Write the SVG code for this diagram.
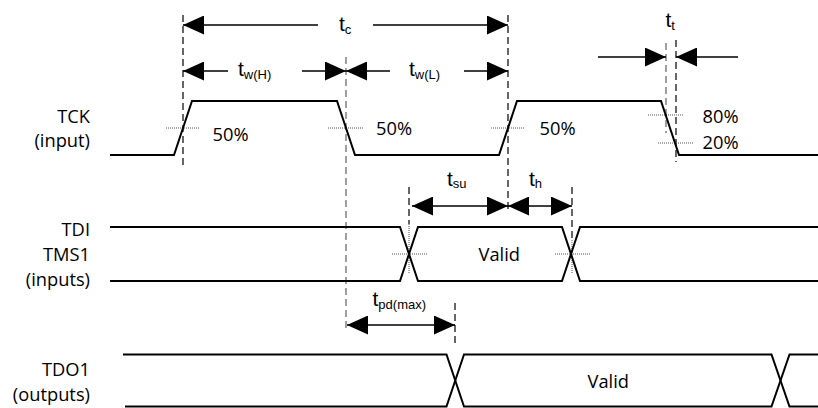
<svg xmlns="http://www.w3.org/2000/svg" width="818" height="408" viewBox="0 0 818 408">
<style>
.wave{fill:none;stroke:#000;stroke-width:2;stroke-linejoin:miter}
.dash{fill:none;stroke:#000;stroke-width:1.2;stroke-dasharray:7,4}
.gdash{fill:none;stroke:#777;stroke-width:1.4;stroke-dasharray:7,4}
.dot{fill:none;stroke:#555;stroke-width:1;stroke-dasharray:1,1}
.arr{fill:none;stroke:#000;stroke-width:1.6}
.lbl{font-family:"Open Sans","Liberation Sans",sans-serif;font-size:18.3px;fill:#000}
.end{text-anchor:end}
.tm{font-family:"Liberation Sans",Arial,sans-serif;font-size:21px;fill:#000}
.sub{font-size:13px}
</style>
<defs>
<marker id="ah" viewBox="0 0 21 19" refX="21" refY="9.5" markerWidth="21" markerHeight="19" markerUnits="userSpaceOnUse" orient="auto-start-reverse">
<path d="M0,0 L21,9.5 L0,19 Z" fill="#000"/>
</marker>
</defs>
<rect width="818" height="408" fill="#fff"/>

<g id="guides">
<line class="dash" x1="183" y1="15" x2="183" y2="166"/>
<line class="dash" x1="508" y1="15" x2="508" y2="213"/>
<line class="gdash" x1="346" y1="57" x2="346" y2="332"/>
<line class="gdash" x1="666" y1="43" x2="666" y2="133"/>
<line class="dash" x1="676" y1="40" x2="676" y2="162"/>
<line class="dash" x1="409" y1="187" x2="409" y2="224"/>
<line class="dash" x1="572" y1="187" x2="572" y2="240"/>
<line class="dash" x1="455" y1="303" x2="455" y2="345"/>
<line class="dot" x1="166" y1="128" x2="200" y2="128"/>
<line class="dot" x1="328" y1="128" x2="363" y2="128"/>
<line class="dot" x1="491" y1="128" x2="524" y2="128"/>
<line class="dot" x1="648" y1="115" x2="684" y2="115"/>
<line class="dot" x1="658" y1="143" x2="693" y2="143"/>
<line class="dot" x1="392" y1="254" x2="428" y2="254"/>
<line class="dot" x1="555" y1="254" x2="590" y2="254"/>
<line class="dot" x1="409" y1="224" x2="409" y2="273"/>
<line class="dot" x1="572" y1="240" x2="572" y2="273"/>
</g>

<g id="tck">
<text class="lbl end" x="90" y="122.5">TCK</text>
<text class="lbl end" x="90" y="147">(input)</text>
<path class="wave" d="M110,155 H174 L192,101 H337 L355,155 H499 L517,101 H661 L679,155 H818"/>
<text class="lbl" x="212.5" y="140.5">50%</text>
<text class="lbl" x="376" y="135">50%</text>
<text class="lbl" x="539.5" y="135">50%</text>
<text class="lbl" x="702.5" y="122.5">80%</text>
<text class="lbl" x="702.5" y="149">20%</text>
</g>

<g id="tdi">
<text class="lbl end" x="90" y="236">TDI</text>
<text class="lbl end" x="90" y="261">TMS1</text>
<text class="lbl end" x="90" y="286">(inputs)</text>
<path class="wave" d="M110,227 H400 L418,281 H562 L580,227 H818"/>
<path class="wave" d="M110,281 H400 L418,227 H562 L580,281 H818"/>
<text class="lbl" x="478.5" y="260.5">Valid</text>
</g>

<g id="tdo">
<text class="lbl end" x="90" y="376">TDO1</text>
<text class="lbl end" x="90" y="400.5">(outputs)</text>
<path class="wave" d="M123,354.5 H446.5 L464,406.5 H771.5 L789.5,354.5 H818"/>
<path class="wave" d="M125,406.5 H446.5 L464,354.5 H771.5 L789.5,406.5 H818"/>
<text class="lbl" x="587.5" y="388">Valid</text>
</g>

<g id="connectors">
<line class="arr" x1="318" y1="25" x2="183" y2="25" marker-end="url(#ah)"/>
<line class="arr" x1="373" y1="25" x2="508" y2="25" marker-end="url(#ah)"/>
<line class="arr" x1="228" y1="71" x2="183" y2="71" marker-end="url(#ah)"/>
<line class="arr" x1="302" y1="71" x2="346" y2="71" marker-end="url(#ah)"/>
<line class="arr" x1="390" y1="71" x2="346" y2="71" marker-end="url(#ah)"/>
<line class="arr" x1="464" y1="71" x2="508" y2="71" marker-end="url(#ah)"/>
<line class="arr" x1="598" y1="57" x2="666" y2="57" marker-end="url(#ah)"/>
<line class="arr" x1="738" y1="57" x2="676" y2="57" marker-end="url(#ah)"/>
<line class="arr" x1="412" y1="206" x2="508" y2="206" marker-start="url(#ah)" marker-end="url(#ah)"/>
<line class="arr" x1="508" y1="206" x2="572" y2="206" marker-start="url(#ah)" marker-end="url(#ah)"/>
<line class="arr" x1="347" y1="325" x2="455" y2="325" marker-start="url(#ah)" marker-end="url(#ah)"/>
</g>

<g id="timing-labels">
<text class="tm" x="339" y="31">t<tspan class="sub" dy="3">c</tspan></text>
<text class="tm" x="238" y="76">t<tspan class="sub" dy="3">w(H)</tspan></text>
<text class="tm" x="409" y="76">t<tspan class="sub" dy="3">w(L)</tspan></text>
<text class="tm" x="665.5" y="27">t<tspan class="sub" dy="3">t</tspan></text>
<text class="tm" x="447" y="185.5">t<tspan class="sub" dy="2">su</tspan></text>
<text class="tm" x="529" y="185.5">t<tspan class="sub" dy="2">h</tspan></text>
<text class="tm" x="372.5" y="305.5">t<tspan class="sub" dy="3">pd(max)</tspan></text>
</g>
</svg>
